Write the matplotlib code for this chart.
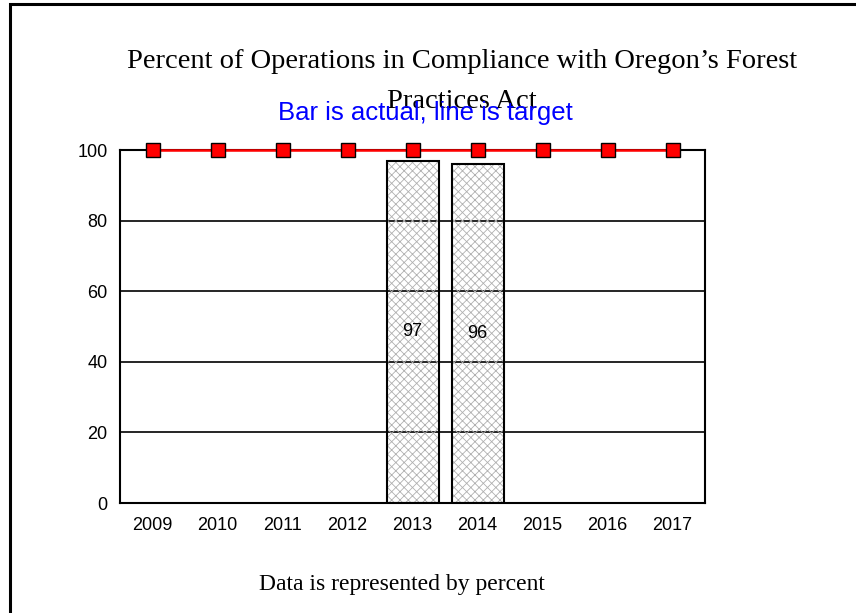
import numpy as np
import matplotlib.pyplot as plt
from matplotlib.patches import Rectangle

###Data
years = ['2009', '2010', '2011', '2012', '2013', '2014', '2015', '2016', '2017']
actual = [0, 0, 0, 0, 97, 96, 0, 0, 0]
target = [100, 100, 100, 100, 100, 100, 100, 100, 100]

###Figure setup
plt.rcParams['hatch.linewidth'] = 0.6
fig = plt.figure(figsize=(8.56, 6.13), dpi=100)
ax = fig.add_axes([0.1402, 0.1794, 0.6834, 0.5759])

x = np.arange(len(years))

#Grid behind the bars
ax.set_axisbelow(True)
ax.yaxis.grid(True, color='black', lw=1.2)

#Only draw bars that have a value
has_val = [v > 0 for v in actual]
vals = np.array(actual)[has_val]
#hatch layer (light grey) then black outline on top
ax.bar(x[has_val], vals, width=0.8, facecolor='none', edgecolor='#b0b0b0',
       lw=0, hatch='xxxx', zorder=1.5)
bars = ax.bar(x[has_val], vals, width=0.8, facecolor='none',
              edgecolor='black', lw=1.5, zorder=2)
ax.bar_label(bars, labels=[str(v) for v in vals], label_type='center',
             fontsize=13, family='Liberation Sans')

#Target line
ax.plot(x, target, color='red', lw=1.8, marker='s', markersize=10,
        markerfacecolor='red', markeredgecolor='black', markeredgewidth=1.0,
        clip_on=False, zorder=3)

ax.set_xlim(-0.5, len(years) - 0.5)
ax.set_ylim(0, 100)
ax.set_yticks(range(0, 101, 20))
ax.set_xticks(x, years)
ax.tick_params(length=0, labelsize=13)
ax.tick_params(axis='x', pad=10)
ax.tick_params(axis='y', pad=9)
for lab in ax.get_xticklabels() + ax.get_yticklabels():
    lab.set_family('Liberation Sans')
for s in ax.spines.values():
    s.set_linewidth(1.5)

###Texts
fig.text(0.540, 0.9, 'Percent of Operations in Compliance with Oregon\u2019s Forest',
         ha='center', va='center', fontsize=20.5, family='Liberation Serif')
fig.text(0.540, 0.835, 'Practices Act', ha='center', va='center', fontsize=20.5,
         family='Liberation Serif')
fig.text(0.497, 0.815, 'Bar is actual, line is target', ha='center', va='center',
         fontsize=18.5, color='#0000ff', family='Liberation Sans')
fig.text(0.469, 0.046, 'Data is represented by percent', ha='center', va='center',
         fontsize=17, family='Liberation Serif')

#Outer frame
fig.add_artist(Rectangle((10 / 856, -0.2), 1.5, 1.2 - 4 / 613, transform=fig.transFigure,
                         fill=False, lw=2.2, edgecolor='black'))

plt.savefig('out.png', dpi=100)
